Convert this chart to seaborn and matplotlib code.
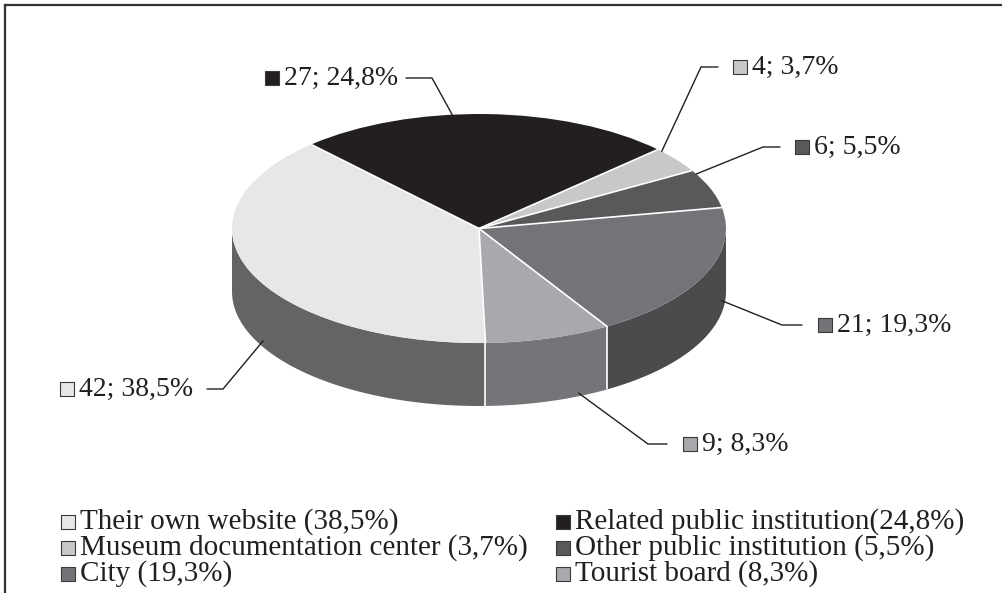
import numpy as np
import matplotlib
matplotlib.use("Agg")
import matplotlib.pyplot as plt
import seaborn as sns

# ---------------- data ----------------
categories = ["Their own website", "Related public institution",
              "Museum documentation center", "Other public institution",
              "City", "Tourist board"]
counts = [42, 27, 4, 6, 21, 9]
shares = [38.5, 24.8, 3.7, 5.5, 19.3, 8.3]
legend_labels = ["Their own website (38,5%)", "Related public institution(24,8%)",
                 "Museum documentation center (3,7%)", "Other public institution (5,5%)",
                 "City (19,3%)", "Tourist board (8,3%)"]
slice_labels = [f"{c}; {s:.1f}%".replace(".", ",") for c, s in zip(counts, shares)]

# ---------------- style ----------------
top_colors = ["#e6e7e8", "#231f20", "#c7c8ca", "#58595b", "#737477", "#a7a9ac"]
side_colors = ["#636466", "#111111", "#8a8b8d", "#3a3b3d", "#4a4b4d", "#747578"]
edge_dark = "#3a3a3c"
text_color = "#231f20"

sns.set_theme(style="white")
plt.rcParams["font.family"] = ["Liberation Serif", "DejaVu Serif"]

W, H = 1003, 593
fig = plt.figure(figsize=(W / 100, H / 100), dpi=100)

# overlay axes in pixel coordinates (for frame, labels, legend)
ov = fig.add_axes([0, 0, 1, 1], zorder=3)
ov.set_xlim(0, W)
ov.set_ylim(H, 0)
ov.axis("off")
ov.patch.set_alpha(0)

# pie axes: unit circle squashed into an ellipse, with a side wall
px_left, px_right, px_top, px_bottom = 232, 726, 114, 406
depth = 0.55
pie_ax = fig.add_axes([px_left / W, 1 - px_bottom / H,
                       (px_right - px_left) / W, (px_bottom - px_top) / H], zorder=1)
wedges, _ = pie_ax.pie(counts, colors=top_colors, startangle=-88.5,
                       counterclock=False, wedgeprops=dict(linewidth=0, zorder=1))
pie_ax.set_aspect("auto")
pie_ax.set_xlim(-1, 1)
pie_ax.set_ylim(-1 - depth, 1)
pie_ax.axis("off")


def front_segments(t1, t2):
    segs = []
    for s in (-720, -360, 0, 360):
        a, b = max(t1, 180 + s), min(t2, 360 + s)
        if b > a:
            segs.append((a, b))
    return segs


for w, sc in zip(wedges, side_colors):
    for a, b in front_segments(w.theta1, w.theta2):
        t = np.radians(np.linspace(a, b, 120))
        xs = np.concatenate([np.cos(t), np.cos(t[::-1])])
        ys = np.concatenate([np.sin(t), np.sin(t[::-1]) - depth])
        pie_ax.fill(xs, ys, color=sc, lw=0, zorder=0.5)

# white separators
for w in wedges:
    r = np.radians(w.theta1)
    pie_ax.plot([0, np.cos(r)], [0, np.sin(r)], color="white", lw=1.2, zorder=2,
                solid_capstyle="butt")
    if np.sin(r) < -1e-6:
        pie_ax.plot([np.cos(r)] * 2, [np.sin(r), np.sin(r) - depth], color="white",
                    lw=1.2, zorder=2, solid_capstyle="butt")

# ---------------- slice labels with leader lines ----------------
# (fraction along wedge, fraction down the side, elbow, line end, text x)
label_layout = [
    (0.45, 0.90, (223, 389), (207, 389), 79),
    (0.41, 0.00, (432, 78), (406, 78), 284),
    (0.10, 0.00, (701, 67), (718, 67), 752),
    (0.10, 0.00, (763, 147), (780, 147), 814),
    (0.31, 0.80, (782, 325), (802, 325), 837),
    (0.25, 0.95, (648, 444), (667, 444), 702),
]

to_pix = ov.transData.inverted()
for w, lab, col, lay in zip(wedges, slice_labels, top_colors, label_layout):
    frac, dfrac, elbow, end, tx = lay
    ang = np.radians(w.theta2 - frac * (w.theta2 - w.theta1))
    pt = (np.cos(ang), np.sin(ang) - dfrac * depth)
    ax_, ay_ = to_pix.transform(pie_ax.transData.transform(pt))
    ov.plot([ax_, elbow[0], end[0]], [ay_, elbow[1], end[1]], color="#231f20", lw=1.0,
            zorder=4)
    ov.scatter([tx - 12], [end[1]], marker="s", s=100, color=col, edgecolors=edge_dark,
               linewidths=0.8, zorder=5)
    ov.text(tx, end[1], lab, fontsize=20, va="center", ha="left", color=text_color,
            zorder=5)

# ---------------- legend ----------------
leg_rows = [522, 548, 574]
leg_sq_x = [68, 563]
for i, (lab, col) in enumerate(zip(legend_labels, top_colors)):
    c, r = i % 2, i // 2
    ov.scatter([leg_sq_x[c]], [leg_rows[r]], marker="s", s=90, color=col,
               edgecolors=edge_dark, linewidths=0.8, zorder=5)
    ov.text(leg_sq_x[c] + 12, leg_rows[r], lab, fontsize=21, va="center", ha="left",
            color=text_color, zorder=5)

# ---------------- frame ----------------
ov.plot([5, 5], [H, 5], color="#333333", lw=1.6, zorder=6, solid_capstyle="projecting")
ov.plot([5, W], [5, 5], color="#333333", lw=1.6, zorder=6, solid_capstyle="projecting")

fig.savefig("out.png", dpi=100)
